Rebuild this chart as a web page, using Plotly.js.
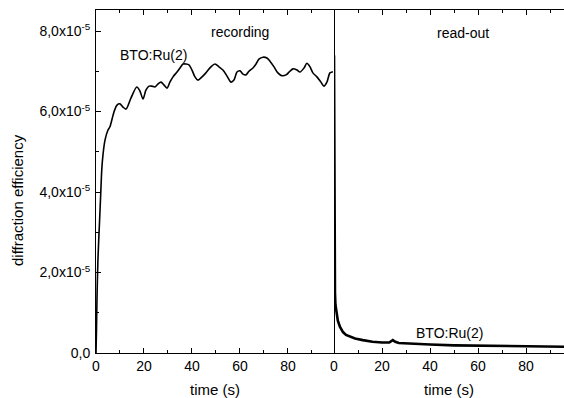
<!DOCTYPE html>
<html>
<head>
<meta charset="utf-8">
<script src="https://cdn.plot.ly/plotly-3.0.1.min.js"></script>
<style>html,body{margin:0;padding:0;background:#fff;}#chart{width:564px;height:398px;}</style>
</head>
<body>
<div id="chart"></div>
<script>
// diffraction efficiency in units of 1e-5
const recTime = [0,0.2,0.4,0.8,1.5,2.0,2.4,2.9,3.75,5.0,5.8,7.5,8.75,10,11.25,12.5,14.6,17,18.3,19.6,20.8,22.1,23.3,24.6,25.8,27.1,28.3,29.6,30.8,32.1,33.75,35,36.25,37.5,38.75,40,41.25,42.5,44.2,45.8,47.9,49.6,51.25,52.9,54.6,56.25,57.5,58.75,60,61.25,62.5,63.75,65.4,66.7,67.9,69.6,71.25,72.5,74.2,75.8,77.5,79.2,80.8,82.1,83.75,85,86.7,87.9,89.2,90.4,92.1,93.75,95,96.25,97.5,98.75];
const recEff = [0,0.57,1.32,2.31,3.30,4.0,4.55,4.92,5.29,5.54,5.62,5.99,6.16,6.19,6.11,6.06,6.34,6.61,6.51,6.31,6.53,6.63,6.63,6.61,6.68,6.73,6.66,6.58,6.73,6.86,6.98,7.08,7.18,7.18,7.16,7.03,6.86,6.78,6.86,6.96,7.11,7.18,7.11,7.03,6.88,6.73,6.78,6.98,7.01,6.93,6.91,7.0,7.08,7.18,7.30,7.35,7.33,7.25,7.11,6.96,6.89,6.91,7.0,7.06,7.03,6.98,7.08,7.20,7.11,6.96,6.86,6.73,6.63,6.73,6.96,6.99];
const readTime = [0,0.1,0.2,0.4,0.6,1,1.6,2.5,3.75,5,6.7,8.75,12,16,20,23,24.5,25.5,27,30,35,40,50,60,70,80,90,95.8];
const readEff = [7.4,3.5,2.0,1.5,1.2,1.0,0.8,0.65,0.52,0.45,0.4,0.36,0.32,0.28,0.26,0.26,0.32,0.28,0.25,0.24,0.22,0.21,0.19,0.18,0.17,0.16,0.16,0.155];
const yTickVals = [0,2,4,6,8];
const yTickText = ['0,0','2,0x10<sup>-5</sup>','4,0x10<sup>-5</sup>','6,0x10<sup>-5</sup>','8,0x10<sup>-5</sup>'];
const xTickVals = [0,20,40,60,80];

const font = {family:'"Liberation Sans", Arial, Helvetica, sans-serif', size:14, color:'#000'};
const xBase = {
  showline:true, linecolor:'#000', linewidth:1, mirror:'ticks',
  ticks:'inside', ticklen:5, tickwidth:1, tickcolor:'#000',
  tickmode:'array', tickvals:xTickVals,
  minor:{ticks:'inside', ticklen:3, tickwidth:1, tickcolor:'#000', tickmode:'linear', tick0:10, dtick:20},
  showgrid:false, zeroline:false, tickfont:{size:14},
  title:{text:'time (s)', font:{size:15}, standoff:11}
};
const div = (334-96)/(564-96);
const ann = (text, px, py, size, angle) => ({text:text, xref:'paper', yref:'paper', x:(px-96)/468, y:(353-py)/343,
  xanchor:'center', yanchor:'middle', showarrow:false, font:{size:size}, textangle:angle||0});
const layout = {
  width:564, height:398,
  margin:{l:96, r:0, t:10, b:45},
  paper_bgcolor:'#fff', plot_bgcolor:'#fff',
  font:font, showlegend:false,
  xaxis:Object.assign({}, xBase, {domain:[0,div], range:[0,99.2], anchor:'y'}),
  xaxis2:Object.assign({}, xBase, {domain:[div,1], range:[0,95.8], anchor:'y'}),
  yaxis:{
    range:[0,8.522], showline:true, linecolor:'#000', linewidth:1,
    ticks:'inside', ticklen:5, tickcolor:'#000', tickmode:'array', tickvals:yTickVals, ticktext:yTickText,
    minor:{ticks:'inside', ticklen:3, tickcolor:'#000', tickmode:'linear', tick0:1, dtick:2},
    showgrid:false, zeroline:false, tickfont:{size:14}, ticklabelstandoff:2
  },
  shapes:[{type:'line', xref:'x2', yref:'paper', x0:0, x1:0, y0:0, y1:1, line:{color:'#000', width:2}}],
  annotations:[
    ann('recording', 240, 32, 14),
    ann('read-out', 463, 33, 14),
    ann('BTO:Ru(2)', 153, 55, 14),
    ann('BTO:Ru(2)', 449, 333, 14),
    ann('diffraction efficiency', 17, 200, 15, -90)
  ]
};
const data = [
  {x:recTime, y:recEff, xaxis:'x', yaxis:'y', mode:'lines', line:{color:'#000', width:1.6, shape:'spline', smoothing:0.8}},
  {x:readTime, y:readEff, xaxis:'x2', yaxis:'y', mode:'lines', line:{color:'#000', width:2.6}}
];
Plotly.newPlot('chart', data, layout, {staticPlot:true, displayModeBar:false});
</script>
</body>
</html>
